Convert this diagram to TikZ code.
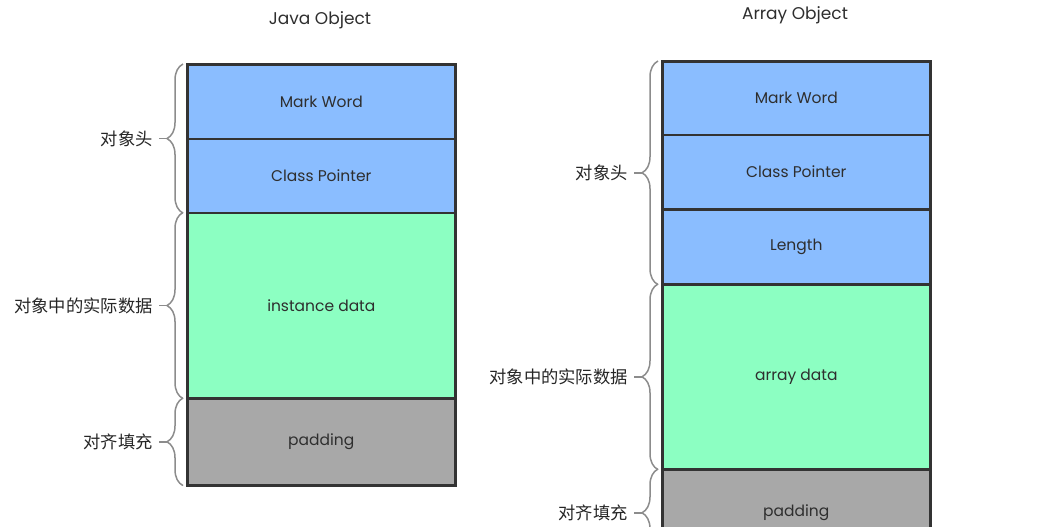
\documentclass[tikz,border=0pt]{standalone}
\usepackage{fontspec}
\setmainfont{Poppins}
\newfontfamily\cjkfont{Noto Sans CJK SC}
\usetikzlibrary{decorations.pathreplacing,calc}

\definecolor{hdrblue}{HTML}{8ABDFF}
\definecolor{datagreen}{HTML}{8CFFC2}
\definecolor{padgray}{HTML}{A8A8A8}
\definecolor{edgegray}{HTML}{333333}
\definecolor{bracegray}{HTML}{8C8C8C}
\definecolor{inkgray}{HTML}{2E2E2E}

\tikzset{
  cell/.style={draw=edgegray, line width=2.6pt, minimum width=268pt,
    anchor=north west, inner sep=0pt, text=inkgray,
    font=\fontsize{15.5}{18}\selectfont},
  hdrcell/.style={cell, fill=hdrblue},
  datacell/.style={cell, fill=datagreen},
  padcell/.style={cell, fill=padgray},
  title/.style={text=inkgray, inner sep=0pt, font=\fontsize{17}{20}\selectfont},
  fieldlabel/.style={anchor=east, inner sep=0pt, text=black!85,
    font=\cjkfont\fontsize{17.3}{20}\selectfont},
  bracestyle/.style={draw=bracegray, line width=1.5pt,
    decorate, decoration={brace, amplitude=16pt}},
  tiplink/.style={draw=bracegray, line width=1.5pt, shorten <=6pt}
}

% Brace along the left side of a run of cells, with its label:
% #1 top cell, #2 bottom cell, #3 label node name, #4 label text
\newcommand\fieldbrace[4]{%
  \draw[bracestyle] ($(#2.south west)+(-3,-1)$) -- ($(#1.north west)+(-3,1)$);
  \coordinate (#3tip) at ($($(#1.north west)!0.5!(#2.south west)$)+(-19,0)$);
  \node[fieldlabel] (#3) at ($(#3tip)+(-14,0)$) {#4};
  \draw[tiplink] (#3.east) -- (#3tip);
}

\begin{document}
\begin{tikzpicture}[x=1pt, y=-1pt]
  \path[use as bounding box, clip] (0,0) rectangle (1049,527);

  % Plain object layout
  \node[title] (javatitle) at (320,20) {Java Object};
  \node[hdrcell,  minimum height=74.5pt] (jmark)  at (186,63)    {Mark Word};
  \node[hdrcell,  minimum height=74pt]   (jclass) at (186,137.5) {Class Pointer};
  \node[datacell, minimum height=185.5pt](jdata)  at (186,211.5) {instance data};
  \node[padcell,  minimum height=87pt]   (jpad)   at (186,397)   {padding};

  \fieldbrace{jmark}{jclass}{jhead}{对象头}
  \fieldbrace{jdata}{jdata}{jbody}{对象中的实际数据}
  \fieldbrace{jpad}{jpad}{jfill}{对齐填充}

  % Array object layout
  \node[title] (arrtitle) at (795,15) {Array Object};
  \node[hdrcell,  minimum height=73.5pt] (amark)  at (661,60)    {Mark Word};
  \node[hdrcell,  minimum height=74.5pt] (aclass) at (661,133.5) {Class Pointer};
  \node[hdrcell,  minimum height=75pt]   (alen)   at (661,208)   {Length};
  \node[datacell, minimum height=185pt]  (adata)  at (661,283)   {array data};
  \node[padcell,  minimum height=87pt]   (apad)   at (661,468)   {padding};

  \fieldbrace{amark}{alen}{ahead}{对象头}
  \fieldbrace{adata}{adata}{abody}{对象中的实际数据}
  \fieldbrace{apad}{apad}{afill}{对齐填充}
\end{tikzpicture}
\end{document}
